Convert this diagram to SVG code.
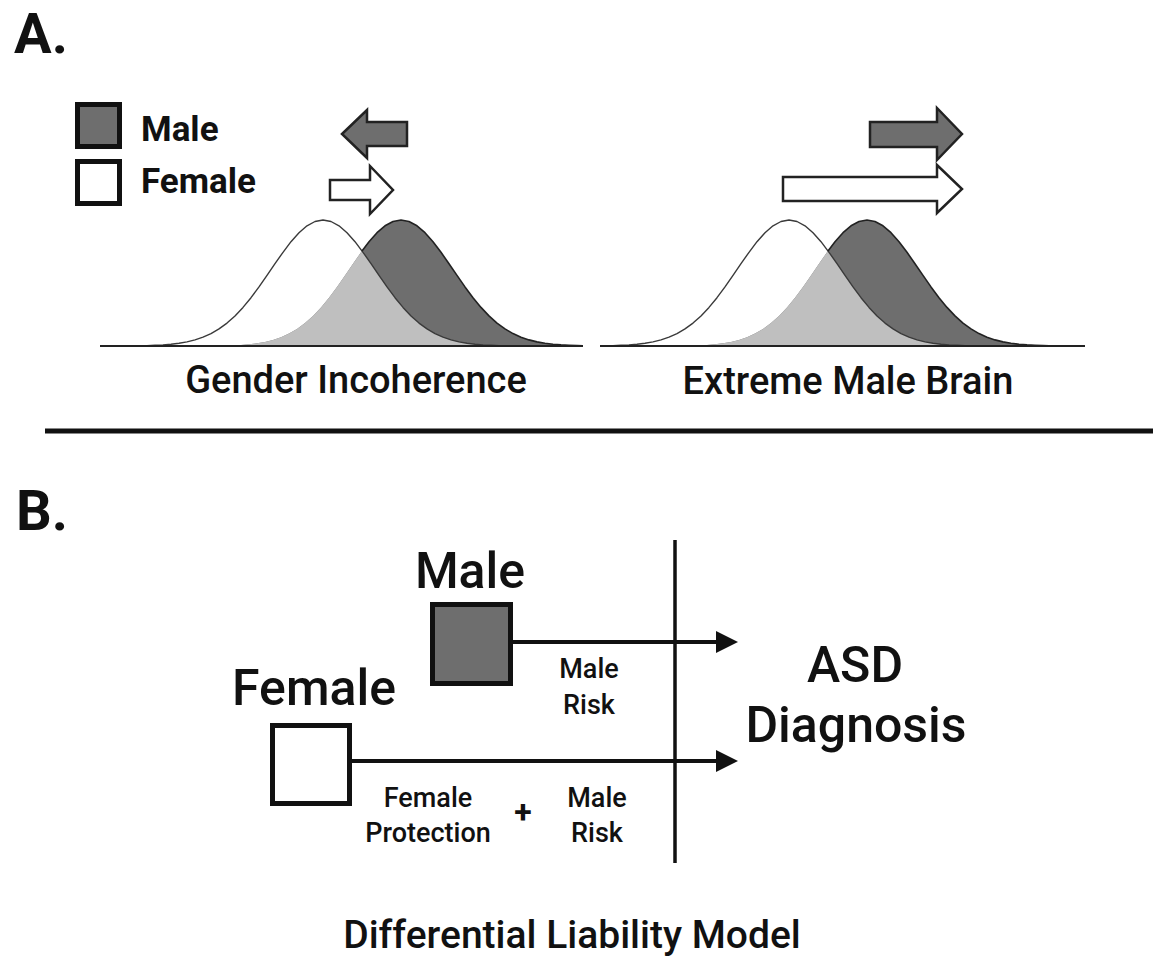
<svg xmlns="http://www.w3.org/2000/svg" xmlns:xlink="http://www.w3.org/1999/xlink" width="1153" height="956" viewBox="0 0 1153 956">
<style>
text{font-family:Roboto,"Liberation Sans",sans-serif;fill:#111;font-weight:500}
.hdr{font-weight:700;font-size:56px}
.leg{font-size:35px;font-weight:700}
.cap{font-size:38px;text-anchor:middle}
.big{font-size:50px;text-anchor:middle}
.sm{font-size:27px;text-anchor:middle}
.dark{fill:#6e6e6e}
.box{stroke:#111;stroke-width:5}
.blk{stroke:#222;stroke-width:2.5;stroke-linejoin:miter}
.ln{stroke:#111;stroke-width:4;fill:none}
</style>
<defs>
<g id="curves">
<path d="M225 346 L233 345.3 241 344.9 249 344.2 257 343.3 265 341.9 273 339.9 281 337.2 289 333.6 297 328.9 305 323.1 313 315.9 321 307.4 329 297.7 337 286.9 345 275.4 353 263.7 361 252.3 369 241.7 377 232.7 385 225.8 393 221.5 401 220 409 221.5 417 225.8 425 232.7 433 241.7 441 252.3 449 263.7 457 275.4 465 286.9 473 297.7 481 307.4 489 315.9 497 323.1 505 328.9 513 333.6 521 337.2 529 339.9 537 341.9 545 343.3 553 344.2 561 344.9 569 345.3 577 345.6 583 345.8 583 346 Z" fill="#6e6e6e"/>
<path d="M225 346 L233 345.3 241 344.9 249 344.2 257 343.3 265 341.9 273 339.9 281 337.2 289 333.6 297 328.9 305 323.1 313 315.9 321 307.4 329 297.7 337 286.9 345 275.4 353 263.7 361 252.3 362 250.9 363 252.3 371 263.7 379 275.4 387 286.9 395 297.7 403 307.4 411 315.9 419 323.1 427 328.9 435 333.6 443 337.2 451 339.9 459 341.9 467 343.3 475 344.2 483 344.9 491 345.3 499 345.6 507 345.8 515 345.9 523 346 Z" fill="#bfbfbf"/>
<path d="M147 345.6 L155 345.3 163 344.9 171 344.2 179 343.3 187 341.9 195 339.9 203 337.2 211 333.6 219 328.9 227 323.1 235 315.9 243 307.4 251 297.7 259 286.9 267 275.4 275 263.7 283 252.3 291 241.7 299 232.7 307 225.8 315 221.5 323 220 331 221.5 339 225.8 347 232.7 355 241.7 363 252.3 371 263.7 379 275.4 387 286.9 395 297.7 403 307.4 411 315.9 419 323.1 427 328.9 435 333.6 443 337.2 451 339.9 459 341.9 467 343.3 475 344.2 483 344.9 491 345.3 499 345.6 507 345.8 515 345.9 523 346" fill="none" stroke="#3a3a3a" stroke-width="1.4" stroke-linejoin="round"/>
<path d="M362 250.9 L369 241.7 377 232.7 385 225.8 393 221.5 401 220 409 221.5 417 225.8 425 232.7 433 241.7 441 252.3 449 263.7 457 275.4 465 286.9 473 297.7 481 307.4 489 315.9 497 323.1 505 328.9 513 333.6 521 337.2 529 339.9 537 341.9 545 343.3 553 344.2 561 344.9 569 345.3 577 345.6 583 345.8" fill="none" stroke="#222" stroke-width="1.6" stroke-linejoin="round"/>
</g>
</defs>

<text class="hdr" x="14" y="53">A.</text>
<text class="hdr" x="16" y="530">B.</text>

<g id="legend">
<rect class="box dark" x="77.5" y="104.5" width="42" height="42"/>
<text class="leg" x="141" y="141">Male</text>
<rect class="box" fill="#fff" x="77.5" y="161.5" width="42" height="42"/>
<text class="leg" x="141" y="193">Female</text>
</g>

<g id="gender-incoherence">
<use xlink:href="#curves"/>
<line x1="100" y1="346" x2="583" y2="346" stroke="#222" stroke-width="2"/>
<polygon class="blk dark" points="342,134 367,110 367,122 407,122 407,146 367,146 367,158"/>
<polygon class="blk" fill="#fff" points="330,180 370,180 370,166 393,190 370,214 370,200 330,200"/>
<text class="cap" x="356" y="393">Gender Incoherence</text>
</g>

<g id="extreme-male-brain">
<use xlink:href="#curves" transform="translate(466,0)"/>
<line x1="600" y1="346" x2="1085" y2="346" stroke="#222" stroke-width="2"/>
<polygon class="blk dark" points="870,122 937,122 937,108 962,134 937,160 937,147 870,147"/>
<polygon class="blk" fill="#fff" points="783,177 937,177 937,165 962,189 937,213 937,201 783,201"/>
<text class="cap" x="848" y="394">Extreme Male Brain</text>
</g>

<line x1="45" y1="431" x2="1153" y2="431" stroke="#111" stroke-width="5"/>

<g id="threshold">
<line x1="675" y1="540" x2="675" y2="863" stroke="#111" stroke-width="3.5"/>
</g>

<g id="male-node">
<text class="big" x="470" y="588">Male</text>
<rect class="box dark" x="432.5" y="604.5" width="78" height="79"/>
</g>

<g id="female-node">
<text class="big" x="314" y="705">Female</text>
<rect class="box" fill="#fff" x="272.5" y="725.5" width="77" height="78"/>
</g>

<g id="asd-node">
<text class="big" x="855" y="682">ASD</text>
<text class="big" x="856" y="742">Diagnosis</text>
</g>

<g id="connectors">
<line class="ln" x1="513" y1="642" x2="718" y2="642"/>
<polygon points="716,631 738,642 716,653" fill="#111"/>
<line class="ln" x1="352" y1="761" x2="718" y2="761"/>
<polygon points="716,750 738,761 716,772" fill="#111"/>
</g>

<g id="labels">
<text class="sm" x="589" y="678">Male</text>
<text class="sm" x="589" y="714">Risk</text>
<text class="sm" x="428" y="807">Female</text>
<text class="sm" x="428" y="842">Protection</text>
<text class="sm" x="523" y="823" style="font-size:32px;font-weight:700">+</text>
<text class="sm" x="597" y="807">Male</text>
<text class="sm" x="597" y="842">Risk</text>
</g>

<text class="cap" x="572" y="948" style="font-size:39px">Differential Liability Model</text>
</svg>
